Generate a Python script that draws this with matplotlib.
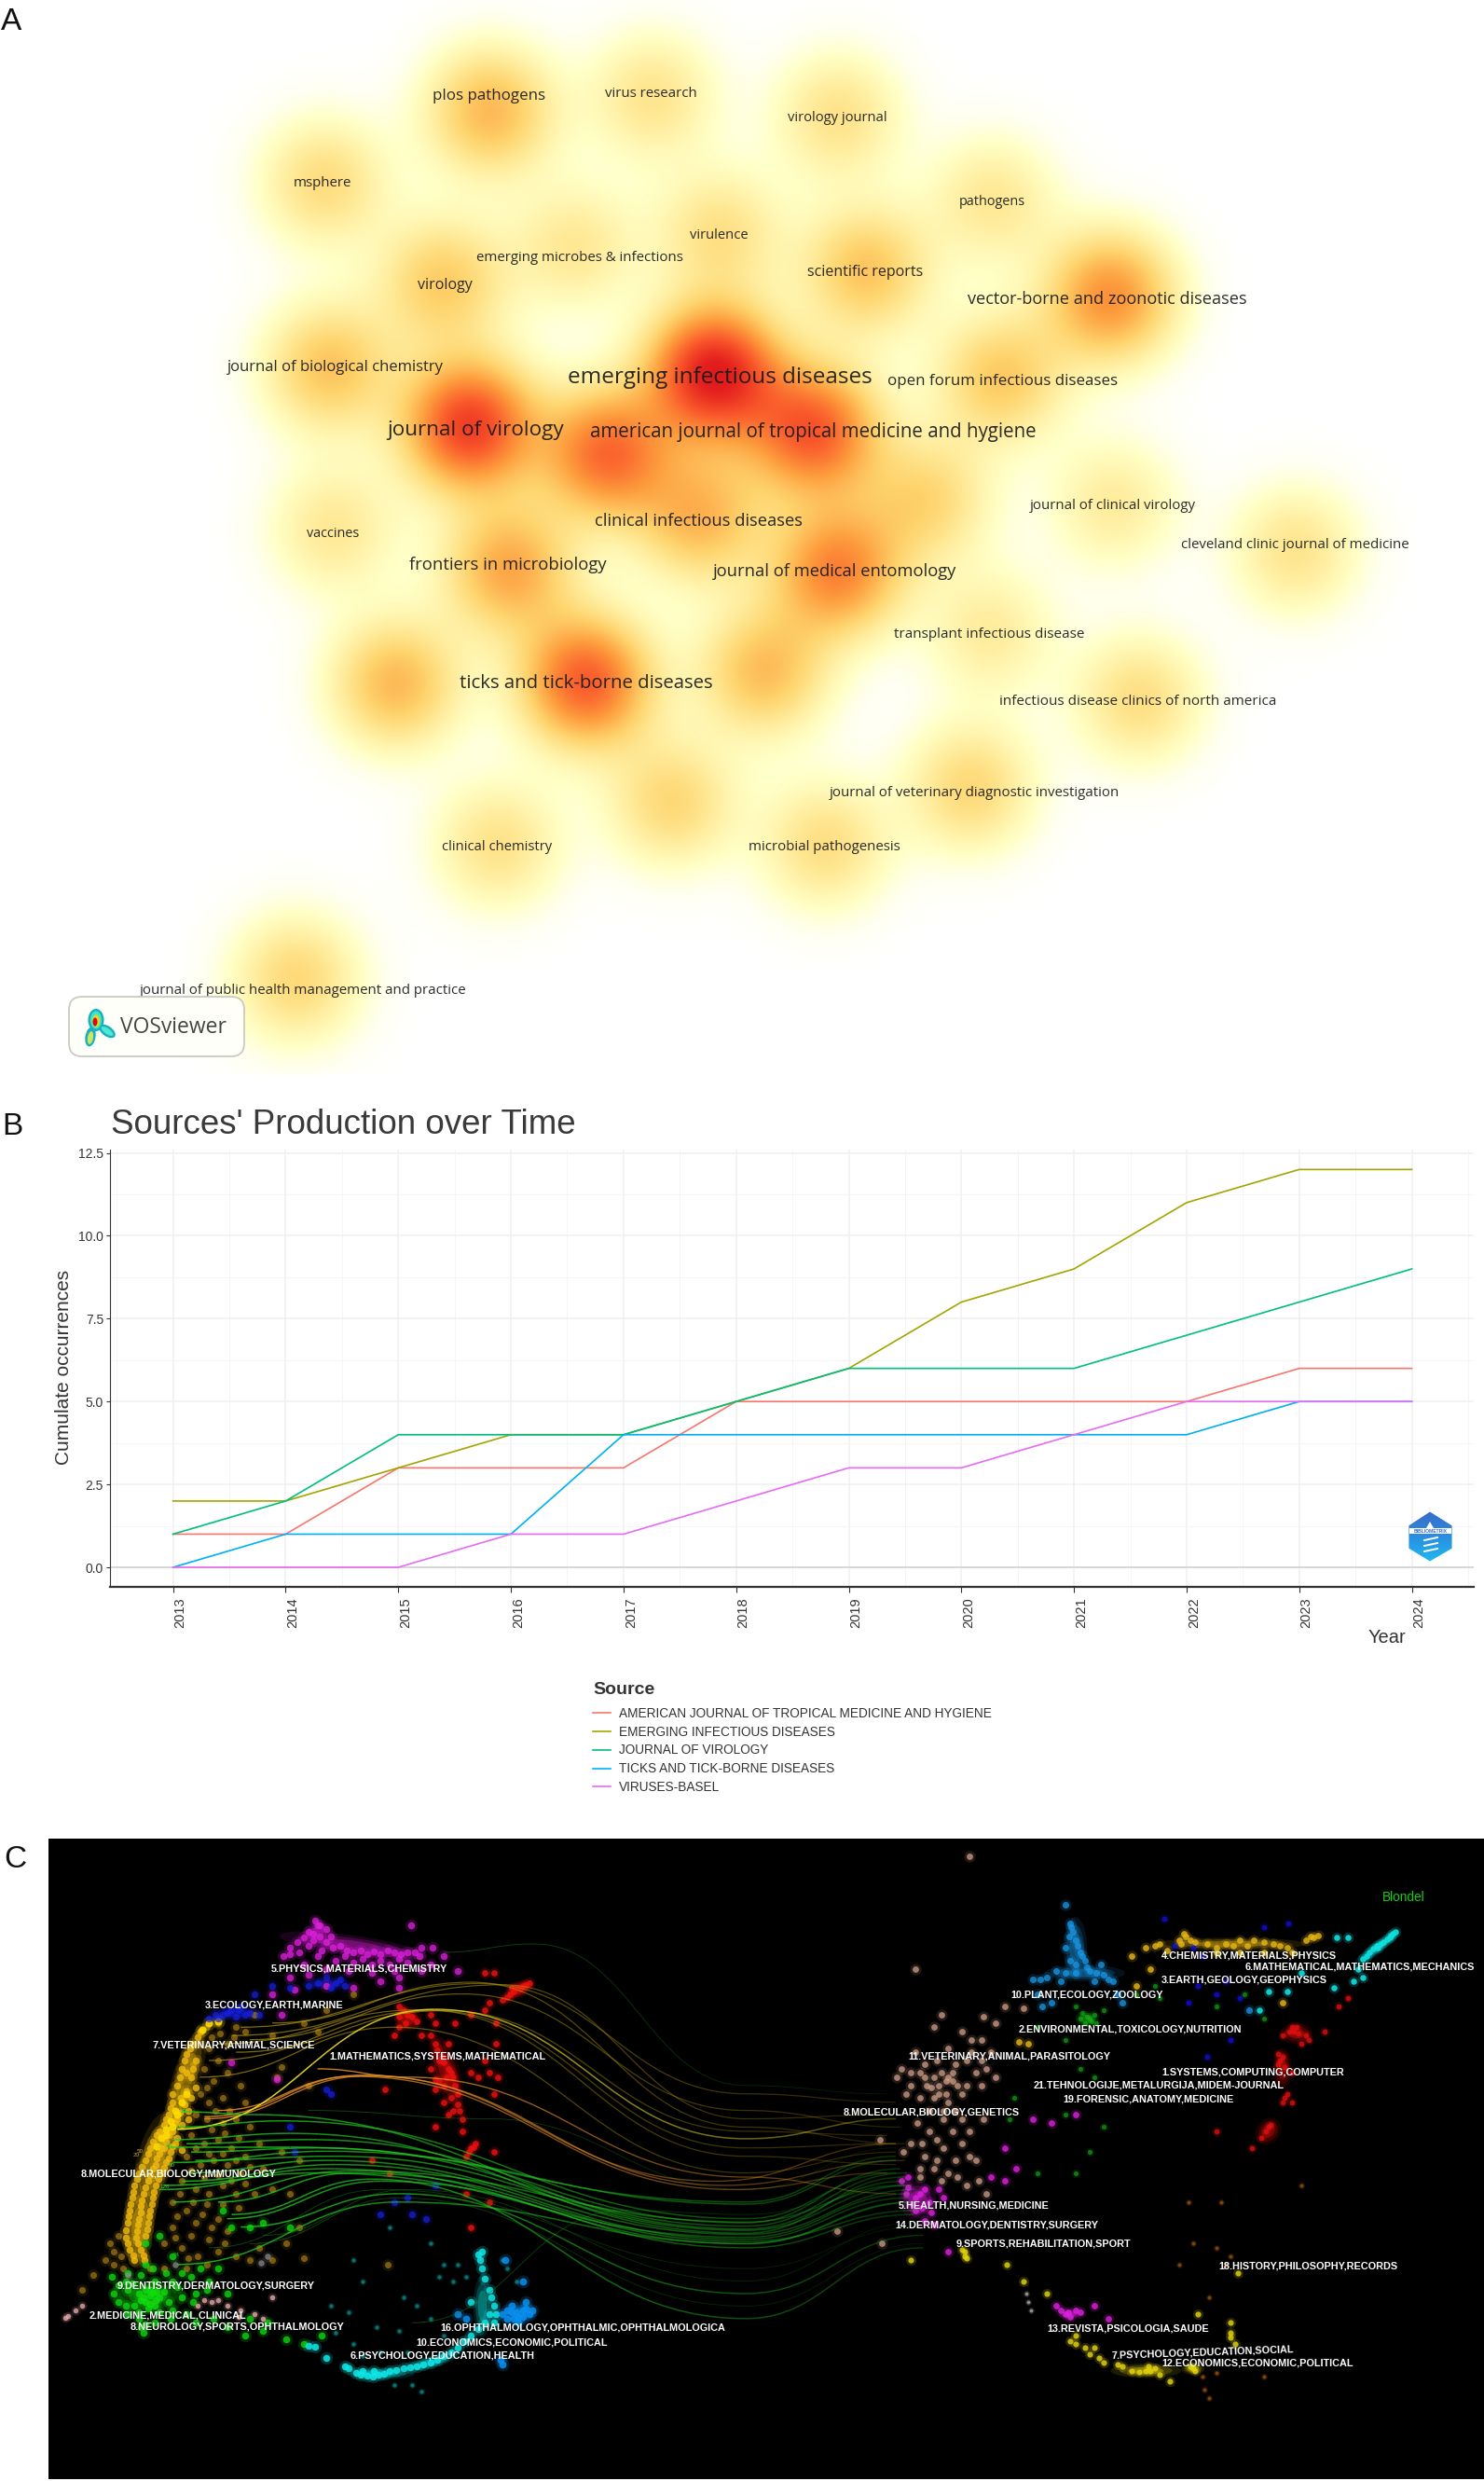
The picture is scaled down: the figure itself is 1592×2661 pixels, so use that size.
import numpy as np
import matplotlib
matplotlib.use('Agg')
import matplotlib.pyplot as plt
from matplotlib.collections import LineCollection
from matplotlib.colors import LinearSegmentedColormap, to_rgb
from matplotlib.patches import Ellipse, FancyBboxPatch, Polygon, Rectangle
from matplotlib.path import Path
from matplotlib.transforms import ScaledTranslation

plt.rcParams['font.family'] = ['Liberation Sans', 'DejaVu Sans']

# --- panel A: journal density map ---
journals = ['emerging infectious diseases', 'journal of virology', 'american journal of tropical medicine and hygiene',
            'ticks and tick-borne diseases', 'vector-borne and zoonotic diseases', 'journal of medical entomology',
            'frontiers in microbiology', 'clinical infectious diseases', 'plos pathogens', 'virus research',
            'virology journal', 'msphere', 'pathogens', 'virulence', 'emerging microbes & infections', 'virology',
            'scientific reports', 'journal of biological chemistry', 'open forum infectious diseases',
            'journal of clinical virology', 'cleveland clinic journal of medicine', 'vaccines',
            'transplant infectious disease', 'infectious disease clinics of north america',
            'journal of veterinary diagnostic investigation', 'clinical chemistry', 'microbial pathogenesis',
            'journal of public health management and practice']
label_x = [772, 510, 872, 629, 1188, 896, 545, 749, 525, 698, 898, 346, 1064, 771, 622, 477, 928, 360, 1076, 1194,
           1389, 357, 1061, 1221, 1045, 533, 884, 325]
label_y = [405, 461, 464, 733, 321, 613, 606, 559, 103, 100, 126, 197, 216, 252, 277, 306, 292, 394, 409, 542, 584,
           573, 680, 752, 851, 908, 908, 1062]
label_pt = [17.5, 16.2, 14.8, 14.7, 13.1, 13.2, 13.3, 13.2, 12.2, 10.8, 10.6, 10.8, 10.4, 10.6, 10.8, 11.5, 11.5, 12,
            12.2, 10.8, 10.8, 10.4, 11, 11, 10.8, 10.6, 10.8, 10.8]
blob_x = [765, 503, 872, 628, 1190, 897, 545, 750, 525, 699, 898, 347, 1064, 771, 615, 474, 928, 352, 1072, 1194,
          1389, 357, 1061, 1221, 1040, 533, 884, 317, 650, 993, 424, 818, 720]
blob_y = [400, 456, 462, 731, 318, 612, 610, 555, 119, 103, 124, 195, 214, 250, 264, 302, 290, 394, 405, 540, 590,
          567, 678, 750, 845, 906, 906, 1050, 486, 535, 733, 720, 860]
blob_w = [1.0, 0.86, 0.74, 0.74, 0.56, 0.6, 0.48, 0.42, 0.42, 0.24, 0.25, 0.28, 0.22, 0.26, 0.22, 0.35, 0.38, 0.38,
          0.36, 0.2, 0.24, 0.22, 0.2, 0.27, 0.3, 0.25, 0.27, 0.3, 0.68, 0.3, 0.42, 0.4, 0.3]

# --- panel B: sources' production over time ---
years = [2013, 2014, 2015, 2016, 2017, 2018, 2019, 2020, 2021, 2022, 2023, 2024]
source_names = ['AMERICAN JOURNAL OF TROPICAL MEDICINE AND HYGIENE', 'EMERGING INFECTIOUS DISEASES',
                'JOURNAL OF VIROLOGY', 'TICKS AND TICK-BORNE DISEASES', 'VIRUSES-BASEL']
ajtmh = [1, 1, 3, 3, 3, 5, 5, 5, 5, 5, 6, 6]
eid = [2, 2, 3, 4, 4, 5, 6, 8, 9, 11, 12, 12]
jvi = [1, 2, 4, 4, 4, 5, 6, 6, 6, 7, 8, 9]
ticks = [0, 1, 1, 1, 4, 4, 4, 4, 4, 4, 5, 5]
viruses = [0, 0, 0, 1, 1, 2, 3, 3, 4, 5, 5, 5]
source_cols = ['#F8766D', '#A3A500', '#00BF7D', '#00B0F6', '#E76BF3']

# --- panel C: dual map overlay, read in map units of the two halves ---
gold_core = [(360, 490), (345, 520), (330, 545), (350, 560), (320, 580), (340, 600), (310, 620), (330, 635), (350, 625),
             (300, 660), (325, 665), (290, 690), (310, 700), (280, 715), (300, 730), (265, 740), (285, 755), (310, 745),
             (250, 770), (270, 785), (295, 780), (240, 800), (262, 810), (285, 805), (225, 830), (250, 835), (275, 830),
             (215, 860), (240, 865), (262, 860), (210, 890), (232, 895), (255, 890), (205, 920), (228, 925), (250, 920),
             (200, 950), (222, 955), (245, 950), (195, 985), (218, 985), (240, 980), (205, 1015), (228, 1015),
             (215, 1040), (238, 1040), (355, 505), (338, 530), (325, 560), (345, 580), (330, 590), (315, 600),
             (300, 640), (318, 650), (340, 650), (295, 675), (315, 685), (335, 680), (285, 700), (270, 730), (290, 740),
             (255, 755), (275, 770), (300, 765), (245, 785), (265, 795), (290, 795), (232, 815), (255, 820), (280, 818),
             (220, 845), (245, 850), (268, 845), (212, 875), (235, 880), (258, 875), (207, 905), (230, 910), (253, 905),
             (202, 935), (225, 940), (248, 935), (197, 968), (220, 970), (243, 965), (200, 1000), (222, 1000),
             (212, 1028), (235, 1028), (305, 710), (320, 715), (335, 700), (305, 760), (320, 775), (280, 770)]
yellow_left = [(330, 640), (320, 660), (305, 680), (295, 705), (285, 725), (275, 745), (265, 765), (285, 740),
               (300, 720), (310, 690), (380, 470), (400, 465), (365, 485)]
gold_mid = [(375, 480), (400, 470), (440, 480), (460, 490), (420, 520), (380, 530), (400, 560), (370, 580), (390, 610),
            (420, 590), (360, 640), (380, 660), (410, 650), (450, 620), (350, 690), (375, 700), (410, 710), (440, 700),
            (470, 720), (340, 740), (370, 760), (400, 750), (430, 770), (460, 790), (490, 760), (330, 790), (360, 810),
            (390, 800), (420, 810), (450, 830), (500, 820), (540, 780), (580, 800), (320, 850), (350, 870), (380, 880),
            (410, 860), (440, 880), (480, 880), (520, 870), (560, 880), (300, 900), (330, 920), (365, 930), (400, 940),
            (300, 960), (340, 980), (380, 990), (420, 970), (320, 1010), (355, 1030), (400, 1020), (440, 1030),
            (280, 1000), (180, 980), (170, 1020), (190, 1060), (160, 1000), (123, 1075), (98, 1110), (280, 1060),
            (330, 1060), (490, 1010), (590, 1035), (775, 1050), (520, 1040), (600, 620), (540, 575), (460, 660),
            (530, 600), (700, 400), (640, 440), (590, 470), (520, 500), (480, 450), (620, 490), (385, 505), (405, 495),
            (435, 505), (360, 520), (345, 570), (375, 625), (395, 680), (425, 680), (385, 725), (415, 735), (445, 745),
            (350, 770), (380, 785), (410, 785), (440, 800), (470, 815), (340, 825), (370, 840), (400, 835), (430, 850),
            (460, 855), (315, 880), (345, 900), (375, 905), (410, 905), (445, 915), (310, 935), (350, 950), (385, 960),
            (415, 1000), (305, 985), (335, 1035), (375, 1050), (250, 1060), (170, 1050), (185, 1030), (150, 1040),
            (470, 1040), (550, 1000), (580, 960)]
green_left = [(165, 1080), (180, 1100), (200, 1110), (225, 1120), (250, 1125), (270, 1130), (240, 1140), (215, 1150),
              (260, 1150), (290, 1140), (320, 1130), (350, 1120), (300, 1090), (260, 1090), (230, 1075), (200, 1070),
              (360, 1060), (180, 1140), (200, 1170), (225, 1180), (235, 1215), (260, 1190), (295, 1180), (330, 1170),
              (240, 1000), (270, 980), (300, 1030), (340, 1080), (380, 1090), (420, 1120), (400, 1060), (430, 960),
              (410, 920), (470, 960), (500, 950), (560, 960), (470, 1180), (510, 1190), (550, 1230), (590, 1240),
              (630, 1220), (420, 1200), (460, 1220), (500, 1210), (250, 1110), (235, 1130), (265, 1115), (250, 1145),
              (240, 1110), (255, 1118), (230, 1135), (262, 1135), (245, 1155), (225, 1165), (270, 1165), (195, 1090),
              (210, 1095), (280, 1115), (310, 1105), (240, 1195), (230, 1200), (195, 1150), (170, 1120), (300, 1160),
              (345, 1140), (375, 1110), (320, 1070), (285, 1070), (255, 1060), (240, 1050), (390, 1180), (350, 1190)]
pink_left = [(68, 1173), (62, 1178), (85, 1160), (100, 1150), (370, 1135), (385, 1140), (400, 1135), (420, 1150),
             (450, 1160), (480, 1170), (520, 1130), (500, 1180), (355, 1150), (445, 1175)]
grey_left = [(305, 1050), (200, 1075), (510, 1030), (495, 1045)]
magenta_left = [(600, 250), (620, 235), (640, 245), (590, 265), (610, 270), (640, 275), (670, 285), (700, 300),
                (730, 305), (760, 305), (790, 300), (820, 300), (850, 290), (827, 235), (875, 290), (560, 290),
                (545, 310), (580, 300), (620, 310), (660, 320), (700, 325), (740, 330), (780, 330), (820, 325),
                (870, 330), (900, 310), (930, 345), (560, 360), (600, 355), (640, 380), (700, 385), (760, 370),
                (800, 385), (520, 400), (570, 390), (540, 450), (430, 565), (530, 605), (800, 360), (610, 255),
                (625, 262), (650, 262), (655, 290), (685, 295), (715, 295), (745, 298), (775, 295), (805, 305),
                (835, 300), (600, 285), (630, 295), (680, 310), (720, 315), (760, 320), (800, 315), (575, 275),
                (560, 305), (845, 310), (590, 330), (640, 340), (690, 345), (740, 350), (790, 345), (850, 345),
                (625, 235), (615, 225)]
blue_left = [(430, 440), (450, 430), (470, 445), (440, 455), (410, 450), (490, 450), (395, 450), (380, 460), (620, 375),
             (660, 375), (680, 380), (640, 360), (600, 380), (560, 385), (480, 400), (520, 380), (640, 630), (650, 640),
             (560, 720), (570, 780), (760, 930), (790, 900), (830, 930), (860, 940), (820, 890), (880, 860), (420, 445),
             (460, 450), (445, 440), (400, 460), (670, 365), (650, 385)]
cyan_left = [(600, 1245), (615, 1248), (640, 1275), (680, 1295), (705, 1310), (730, 1318), (755, 1315), (780, 1305),
             (810, 1300), (840, 1295), (870, 1285), (900, 1270), (930, 1250), (960, 1220), (990, 1190), (1010, 1150),
             (1000, 1110), (985, 1060), (975, 1025), (985, 1020), (1010, 1190), (960, 1140), (690, 1300), (715, 1315),
             (742, 1320), (768, 1312), (795, 1303), (825, 1298), (855, 1290), (885, 1278), (915, 1262), (945, 1235),
             (975, 1205), (1000, 1170), (1005, 1130), (990, 1085), (980, 1040), (1015, 1170), (720, 1305), (745, 1305)]
teal_left = [(650, 1150), (690, 1165), (720, 1090), (810, 1130), (840, 1150), (870, 1180), (900, 1220), (800, 1210),
             (750, 1200), (700, 1240), (660, 1215), (850, 1355), (830, 1340), (790, 1340), (900, 1050), (930, 1050),
             (950, 1080), (890, 1080), (920, 1090), (1030, 1040), (1040, 1060), (1060, 1090), (870, 1000), (760, 1260),
             (720, 1270), (820, 1260), (700, 1040), (780, 960)]
sky_left = [(1060, 1165), (1075, 1160), (1090, 1170), (1050, 1150), (1040, 1180), (1065, 1190), (1025, 1280),
            (1030, 1290), (930, 1170), (950, 1180), (1080, 1140), (1035, 1040), (1075, 1090), (1050, 1165), (1065, 1175),
            (1082, 1155), (1095, 1160), (1055, 1180), (1030, 1170), (1040, 1160), (1075, 1175)]
red_left = [(1060, 385), (1075, 380), (1090, 375), (1045, 400), (1030, 415), (1010, 350), (990, 350), (800, 430),
            (820, 450), (840, 465), (800, 480), (790, 500), (880, 520), (895, 550), (910, 580), (920, 600), (900, 620),
            (880, 630), (930, 640), (920, 680), (940, 700), (900, 660), (960, 770), (950, 790), (970, 760), (1015, 520),
            (990, 560), (1010, 640), (770, 630), (960, 590), (960, 450), (990, 440), (1015, 470), (880, 470),
            (925, 470), (870, 450), (740, 800), (780, 830), (950, 880), (1000, 900), (960, 960), (1010, 780),
            (880, 720), (940, 730), (1068, 388), (1055, 395), (1082, 378), (1040, 408), (1050, 385), (810, 440),
            (830, 455), (815, 470), (800, 455), (885, 535), (900, 565), (915, 590), (905, 600), (890, 610), (925, 620),
            (915, 650), (930, 665), (910, 690), (955, 780), (965, 768), (890, 560), (870, 580), (880, 605), (935, 680),
            (1000, 590), (1020, 600), (975, 600), (1000, 420), (850, 500), (870, 500), (910, 520)]

sky_right = [(690, 230), (695, 250), (700, 270), (680, 290), (710, 300), (700, 330), (730, 345), (760, 355), (780, 370),
             (740, 370), (680, 350), (640, 360), (610, 365), (720, 320), (800, 420), (790, 400), (650, 420), (630, 430),
             (1070, 440), (680, 185), (692, 240), (688, 262), (705, 285), (715, 310), (690, 320), (725, 335), (745, 350),
             (660, 345), (625, 365), (770, 365), (755, 330), (700, 350), (670, 370), (620, 400)]
gold_right = [(880, 280), (930, 255), (945, 270), (920, 270), (980, 280), (1020, 280), (1050, 270), (1080, 270),
              (1120, 280), (1150, 290), (1200, 262), (1215, 260), (850, 290), (820, 310), (1000, 300), (1050, 300),
              (1100, 300), (1160, 300), (860, 340), (830, 380), (580, 515), (600, 520), (1140, 420), (935, 262),
              (925, 280), (955, 275), (1000, 290), (1035, 285), (1065, 285), (1100, 275), (1135, 285), (1205, 265),
              (1190, 272), (895, 295), (870, 285)]
blue_right = [(890, 220), (1152, 230), (910, 285), (950, 290), (970, 310), (960, 380), (1000, 400), (1050, 410),
              (1020, 370), (940, 420), (1100, 240), (1030, 510), (980, 550)]
cyan_right = [(1380, 250), (1370, 260), (1355, 275), (1340, 285), (1325, 300), (1310, 315), (1280, 265), (1255, 265),
              (1300, 340), (1290, 370), (1250, 385), (1180, 350), (1150, 395), (1110, 395), (1090, 440), (1310, 360),
              (1375, 255), (1362, 268), (1348, 280), (1332, 292), (1318, 308), (1368, 265), (1342, 290)]
green_right = [(730, 460), (715, 445), (745, 470), (700, 430), (760, 440), (830, 400), (880, 410), (870, 380),
               (1000, 430), (1100, 460), (1060, 400), (620, 480), (680, 510), (570, 650), (710, 580), (740, 600),
               (760, 720), (620, 830), (700, 830), (730, 780), (560, 700), (680, 690), (725, 455), (735, 465),
               (720, 470), (710, 460), (740, 450)]
tan_right = [(430, 600), (445, 570), (410, 620), (400, 650), (430, 660), (460, 640), (380, 600), (500, 560), (520, 540),
             (480, 510), (460, 490), (505, 455), (550, 430), (590, 435), (350, 620), (330, 580), (320, 600), (360, 340),
             (415, 450), (400, 480), (360, 540), (475, 70), (530, 600), (500, 620), (460, 700), (420, 700), (390, 730),
             (350, 760), (380, 790), (420, 770), (460, 760), (490, 800), (430, 830), (400, 820), (370, 840), (470, 860),
             (510, 880), (285, 750), (195, 970), (290, 1000), (440, 610), (415, 590), (425, 640), (395, 625), (440, 590),
             (425, 610), (450, 620), (410, 640), (385, 620), (370, 590), (400, 600), (420, 680), (390, 680), (445, 680),
             (470, 620), (490, 590), (510, 580), (470, 560), (480, 540), (500, 510), (530, 470), (380, 570), (350, 590),
             (340, 640), (370, 650), (365, 710), (405, 750), (440, 730), (475, 730), (505, 700), (375, 760), (405, 800),
             (445, 800), (475, 790), (415, 850), (450, 840), (495, 850), (370, 820), (335, 780), (405, 560), (430, 530)]
magenta_right = [(330, 850), (340, 880), (370, 880), (390, 900), (360, 920), (380, 945), (400, 955), (430, 1020),
                 (550, 850), (575, 820), (520, 840), (550, 770), (680, 1170), (690, 1175), (660, 1150), (710, 1165),
                 (740, 1150), (770, 1180), (610, 700), (650, 710), (700, 690), (420, 890), (345, 865), (360, 890),
                 (380, 870), (355, 905), (375, 915), (395, 925), (345, 840), (410, 870), (685, 1165), (670, 1160),
                 (700, 1160)]
yellow_right = [(465, 1020), (470, 1035), (350, 1040), (555, 1050), (590, 1090), (640, 1120), (700, 1220), (720, 1250),
                (750, 1275), (790, 1290), (820, 1305), (850, 1305), (870, 1300), (900, 1330), (950, 1300), (960, 1170),
                (1030, 1215), (1040, 1240), (1045, 1070), (1030, 1190), (690, 1235), (730, 1265), (760, 1285),
                (800, 1295), (835, 1308), (860, 1305), (855, 1295), (880, 1315), (955, 1305), (945, 1295), (1030, 1225),
                (740, 1250), (700, 1240), (465, 1030), (460, 1015)]
brown_right = [(1030, 1030), (1020, 1050), (1010, 900), (950, 1000), (940, 900), (1180, 860), (1000, 1010), (985, 1130),
               (920, 1050), (970, 1320), (985, 1370), (975, 1350), (1000, 1310), (1100, 1320)]
red_right = [(1170, 480), (1155, 490), (1190, 500), (1230, 490), (1140, 550), (1130, 570), (1160, 590), (1150, 640),
             (1140, 660), (1160, 660), (1110, 720), (1095, 745), (1075, 770), (1140, 500), (1260, 430), (1280, 410),
             (1000, 730), (1180, 520), (1165, 490), (1175, 495), (1135, 560), (1145, 575), (1130, 545), (1145, 650),
             (1105, 730), (1115, 715), (1160, 480), (1195, 510)]
grey_right = [(600, 1140), (595, 1120), (605, 1160)]

# extents of the dense cores: x, y, width, height, angle, colour
cores_left = [(700, 285, 330, 50, 8, '#e020e0'), (620, 250, 60, 40, 0, '#e020e0'), (440, 445, 110, 40, 0, '#1820e0'),
              (640, 375, 110, 30, 0, '#1820e0'), (330, 600, 60, 240, 18, '#f2bc10'), (260, 800, 80, 240, 15, '#f2bc10'),
              (225, 960, 65, 200, 3, '#f2bc10'), (245, 1125, 170, 90, 0, '#10e010'), (1065, 390, 70, 40, -30, '#f01010'),
              (905, 585, 60, 180, -18, '#f01010'), (820, 460, 60, 60, 0, '#f01010'), (760, 1312, 150, 30, 0, '#10e8e8'),
              (870, 1285, 120, 30, -15, '#10e8e8'), (985, 1150, 40, 150, 0, '#10e8e8'), (1070, 1165, 70, 50, 0, '#0a90f0')]
cores_right = [(700, 290, 50, 150, 0, '#1a98e8'), (720, 350, 170, 40, 0, '#1a98e8'), (1030, 280, 320, 30, 0, '#e8b818'),
               (1340, 290, 120, 30, -38, '#10e0e0'), (365, 895, 80, 90, 0, '#e020e0'), (725, 460, 50, 40, 0, '#18c818'),
               (1170, 495, 70, 50, 0, '#e81010'), (1140, 580, 40, 100, 0, '#e81010'), (1110, 730, 50, 70, 40, '#e81010'),
               (850, 1305, 150, 35, 0, '#e8d810'), (950, 1300, 50, 30, 0, '#e8d810'), (690, 1170, 50, 25, 0, '#e020e0')]

# knots of the citation arcs in left map units: start, crest, flat stretch, end
arcs_yellow = [[(310, 725), (880, 437), (1568, 748), (1900, 700)]]
arcs_olive = [[(450, 480), (980, 375), (1568, 640), (1900, 660)], [(430, 500), (1030, 378), (1568, 700), (1890, 690)],
              [(520, 470), (960, 372), (1568, 720), (1920, 760)], [(380, 560), (870, 440), (1568, 770), (1900, 760)],
              [(400, 520), (850, 438), (1568, 790), (1900, 810)], [(440, 540), (900, 440), (1568, 730), (1880, 740)],
              [(470, 510), (940, 400), (1568, 680), (1910, 720)], [(360, 600), (790, 480), (1568, 830), (1900, 780)]]
arcs_orange = [[(370, 695), (720, 595), (1500, 850), (1900, 760)], [(370, 700), (730, 597), (1520, 860), (1920, 800)],
               [(400, 680), (700, 598), (1540, 870), (1880, 830)], [(620, 580), (820, 600), (1568, 840), (1900, 880)]]
arcs_green = [[(320, 683), (480, 690), (1568, 965), (1920, 850)], [(300, 750), (560, 735), (1568, 975), (1920, 840)],
              [(290, 768), (560, 768), (1568, 900), (1900, 790)], [(300, 805), (640, 778), (1568, 905), (1900, 800)],
              [(280, 860), (620, 830), (1568, 985), (1930, 880)], [(270, 870), (640, 820), (1568, 1000), (1940, 900)],
              [(430, 930), (740, 845), (1568, 1180), (1960, 1010)], [(450, 960), (800, 880), (1568, 1120), (1960, 980)],
              [(310, 1050), (800, 900), (1568, 1000), (1950, 900)], [(330, 760), (600, 750), (1568, 950), (1910, 820)],
              [(340, 780), (620, 770), (1568, 958), (1925, 830)], [(350, 800), (660, 790), (1568, 968), (1935, 860)],
              [(330, 830), (640, 800), (1568, 978), (1945, 870)], [(320, 850), (660, 810), (1568, 990), (1930, 890)],
              [(400, 900), (700, 830), (1568, 995), (1950, 920)], [(420, 940), (760, 850), (1568, 1010), (1940, 930)],
              [(300, 900), (700, 825), (1568, 948), (1920, 860)], [(310, 720), (540, 705), (1568, 940), (1900, 830)]]
arcs_dark = [[(380, 1010), (760, 870), (1568, 1060), (1950, 960)], [(470, 1000), (800, 890), (1568, 1150), (1960, 1000)],
             [(500, 980), (820, 870), (1568, 1090), (1940, 950)], [(600, 680), (1000, 700), (1568, 870), (1900, 770)],
             [(830, 1190), (1300, 920), (1568, 930), (1900, 860)], [(900, 300), (1100, 280), (1568, 620), (1880, 640)]]

labels_left = ['5.PHYSICS,MATERIALS,CHEMISTRY', '3.ECOLOGY,EARTH,MARINE', '7.VETERINARY,ANIMAL,SCIENCE',
               '1.MATHEMATICS,SYSTEMS,MATHEMATICAL', '8.MOLECULAR,BIOLOGY,IMMUNOLOGY', '9.DENTISTRY,DERMATOLOGY,SURGERY',
               '2.MEDICINE,MEDICAL,CLINICAL', '8.NEUROLOGY,SPORTS,OPHTHALMOLOGY',
               '16.OPHTHALMOLOGY,OPHTHALMIC,OPHTHALMOLOGICA', '10.ECONOMICS,ECONOMIC,POLITICAL',
               '6.PSYCHOLOGY,EDUCATION,HEALTH']
labels_left_x = [518, 370, 254, 647, 97, 177, 115, 206, 893, 838, 692]
labels_left_y = [339, 426, 523, 550, 833, 1102, 1173, 1200, 1202, 1237, 1268]
labels_right = ['4.CHEMISTRY,MATERIALS,PHYSICS', '6.MATHEMATICAL,MATHEMATICS,MECHANICS', '3.EARTH,GEOLOGY,GEOPHYSICS',
                '10.PLANT,ECOLOGY,ZOOLOGY', '2.ENVIRONMENTAL,TOXICOLOGY,NUTRITION', '11.VETERINARY,ANIMAL,PARASITOLOGY',
                '1.SYSTEMS,COMPUTING,COMPUTER', '21.TEHNOLOGIJE,METALURGIJA,MIDEM-JOURNAL',
                '19.FORENSIC,ANATOMY,MEDICINE', '8.MOLECULAR,BIOLOGY,GENETICS', '5.HEALTH,NURSING,MEDICINE',
                '14.DERMATOLOGY,DENTISTRY,SURGERY', '9.SPORTS,REHABILITATION,SPORT', '18.HISTORY,PHILOSOPHY,RECORDS',
                '13.REVISTA,PSICOLOGIA,SAUDE', '12.ECONOMICS,ECONOMIC,POLITICAL']
labels_right_x = [883, 1060, 883, 563, 580, 345, 883, 612, 673, 207, 325, 318, 447, 1004, 641, 884]
labels_right_y = [308, 336, 366, 401, 486, 549, 587, 620, 654, 684, 908, 955, 1001, 1053, 1203, 1287]
small_nums = ['32', '25', '12', '86', '40', '128', '24', '50', '20', '10']
small_x = [325, 292, 273, 303, 297, 283, 307, 227, 218, 235]
small_y = [682, 765, 768, 748, 812, 863, 1027, 778, 788, 818]
small_cols = ['#33dd33', '#33dd33', '#d8c020', '#c8b030', '#33dd33', '#33dd33', '#33aa33', '#c8a030', '#c8a030', '#c8a030']


# map units of the two zoomed halves -> figure pixels
def lx(x):
    return np.asarray(x, dtype=float) / 2.063 + 40


def rx(x):
    return np.asarray(x, dtype=float) / 1.98 + 800


def my(y):
    return np.asarray(y, dtype=float) / 2.24 + 1960


fig = plt.figure(figsize=(15.92, 26.61), dpi=100, facecolor='white')

# --- B ---
ax = fig.add_axes([118 / 1592, 1 - 1702 / 2661, (1581 - 118) / 1592, (1702 - 1233) / 2661], zorder=1)
series = [ajtmh, eid, jvi, ticks, viruses]
for vals, name, col in zip(series, source_names, source_cols):
    ax.plot(years, vals, color=col, lw=1.2, label=name, zorder=3)
ax.set_xlim(2012.44, 2024.55)
ax.set_ylim(-0.59, 12.6)
ax.set_xticks(years)
ax.set_yticks([0, 2.5, 5, 7.5, 10, 12.5])
ax.set_yticklabels(['0.0', '2.5', '5.0', '7.5', '10.0', '12.5'])
ax.set_xticks([y + 0.5 for y in years[:-1]] + [2012.5, 2024.5], minor=True)
ax.set_yticks([1.25, 3.75, 6.25, 8.75, 11.25], minor=True)
ax.grid(True, which='major', color='#f0f0f0', lw=1.1)
ax.grid(True, which='minor', color='#f5f5f5', lw=0.7)
ax.axhline(0, color='#cfcfcf', lw=1.1, zorder=2)
ax.set_axisbelow(True)
for side in ['top', 'right']:
    ax.spines[side].set_visible(False)
ax.spines['bottom'].set_color('#333333')
ax.spines['bottom'].set_linewidth(1.6)
ax.spines['left'].set_color('#333333')
ax.spines['left'].set_linewidth(0.8)
ax.tick_params(axis='x', which='major', labelrotation=90, labelsize=10.5, length=4, color='#333333',
               labelcolor='#333333', pad=4)
ax.tick_params(axis='y', which='major', labelsize=10, length=3, color='#333333', labelcolor='#333333', pad=2)
ax.tick_params(which='minor', length=0)
for lab in ax.get_xticklabels():
    lab.set_transform(lab.get_transform() + ScaledTranslation(8 / 100, 0, fig.dpi_scale_trans))

# --- A and C live on a figure-sized pixel axes ---
ov = fig.add_axes([0, 0, 1, 1], zorder=3)
ov.axis('off')

gx, gy = np.meshgrid(np.arange(0, 1592, 2), np.arange(0, 1153, 2))
dens = np.zeros_like(gx, dtype=float)
for bx, by, w in zip(blob_x, blob_y, blob_w):
    dens += w * np.exp(-((gx - bx) ** 2 + (gy - by) ** 2) / (2 * 48.0 ** 2))
heat = LinearSegmentedColormap.from_list('vos', [(0, '#ffffff'), (0.03, '#fffff2'), (0.09, '#ffffc6'), (0.2, '#ffeb9a'),
                                                 (0.32, '#fed36c'), (0.5, '#fd9e3e'), (0.72, '#fa5a2b'),
                                                 (0.95, '#e41f1e'), (1, '#dd1a1c')])
ov.imshow(dens, extent=(0, 1592, 1153, 0), cmap=heat, vmin=0, vmax=1.05, aspect='auto', interpolation='bilinear', zorder=1)
for name, x, y, pt in zip(journals, label_x, label_y, label_pt):
    ov.text(x, y, name, fontsize=pt, family=['Open Sans', 'DejaVu Sans'], color='#1a1a1a', alpha=0.92, ha='center',
            va='center', zorder=3)

ov.add_patch(FancyBboxPatch((82, 1077), 172, 48, boxstyle='round,pad=8,rounding_size=14', fc='#fffffa', ec='#c8c8c0',
                            lw=1.3, alpha=0.95, zorder=4))
for cx, cy, w, h, ang, col in [(103, 1094, 17, 24, 0, '#18b0c0'), (97, 1112, 11, 21, 10, '#18b0c0'),
                               (115, 1106, 20, 11, 35, '#18b0c0'), (103, 1094, 12, 19, 0, '#40e8c8'),
                               (97, 1113, 6, 14, 10, '#c8e860'), (115, 1106, 15, 6, 35, '#50e8d0'),
                               (103, 1095, 8, 13, 0, '#f0d020'), (102, 1096, 5, 9, 0, '#cc1010')]:
    ov.add_patch(Ellipse((cx, cy), w, h, angle=ang, fc=col, ec='none', zorder=5))
ov.text(129, 1102, 'VOSviewer', fontsize=16.5, family=['Open Sans', 'DejaVu Sans'], color='#444444', va='center', zorder=5)

# --- C ---
ov.add_patch(Rectangle((52, 1972), 1540, 687, fc='black', ec='none', zorder=1))
for cores, to_x, scale in [(cores_left, lx, 2.063), (cores_right, rx, 1.98)]:
    for x, y, w, h, ang, col in cores:
        for grow, a in [(1.0, 0.12), (0.75, 0.2), (0.5, 0.3)]:
            ov.add_patch(Ellipse((to_x(x), my(y)), w / scale * grow, h / 2.24 * grow, angle=ang, fc=col, ec='none',
                                 alpha=a, zorder=1.5))
clusters = [(gold_mid, lx, '#d9a520', 26, 0.5), (gold_core, lx, '#f2bc10', 30, 0.8), (yellow_left, lx, '#ffdc00', 34, 0.9),
            (green_left, lx, '#10e010', 30, 0.75), (pink_left, lx, '#f0b0b0', 16, 0.75), (grey_left, lx, '#909090', 22, 0.7),
            (magenta_left, lx, '#e020e0', 30, 0.75), (blue_left, lx, '#1820e0', 28, 0.7), (cyan_left, lx, '#10e8e8', 30, 0.85),
            (teal_left, lx, '#10a0a0', 10, 0.65), (sky_left, lx, '#0a90f0', 32, 0.85), (red_left, lx, '#f01010', 24, 0.8),
            (sky_right, rx, '#1a98e8', 26, 0.75), (gold_right, rx, '#e8b818', 24, 0.8), (blue_right, rx, '#1010d8', 18, 0.75),
            (cyan_right, rx, '#10e0e0', 22, 0.9), (green_right, rx, '#18b818', 14, 0.6), (tan_right, rx, '#dca890', 24, 0.7),
            (magenta_right, rx, '#e020e0', 24, 0.8), (yellow_right, rx, '#e8d810', 20, 0.8),
            (brown_right, rx, '#a85a10', 9, 0.7), (red_right, rx, '#e81010', 18, 0.75), (grey_right, rx, '#aaaaaa', 8, 0.8)]
for pts, to_x, col, size, alpha in clusters:
    arr = np.array(pts)
    # soft halo fills the gaps of the dense clouds, then the dots on top
    ov.scatter(to_x(arr[:, 0]), my(arr[:, 1]), s=size * 3.2, color=col, alpha=alpha * 0.22, lw=0, zorder=2)
    ov.scatter(to_x(arr[:, 0]), my(arr[:, 1]), s=size, color=col, alpha=alpha, lw=0, zorder=2.1)


def draw_arcs(arcs, col, lw, alpha):
    rgb = to_rgb(col)
    for knots in arcs:
        xs = lx([k[0] for k in knots])
        ys = my([k[1] for k in knots])
        verts = [(xs[0], ys[0])]
        for i in range(len(xs) - 1):
            d = 0.45 * (xs[i + 1] - xs[i])
            verts += [(xs[i] + d, ys[i]), (xs[i + 1] - d, ys[i + 1]), (xs[i + 1], ys[i + 1])]
        codes = [Path.MOVETO] + [Path.CURVE4] * (len(verts) - 1)
        line = Path(verts, codes).to_polygons(closed_only=False)[0]
        segs = np.stack([line[:-1], line[1:]], axis=1)
        frac = (segs[:, 0, 0] - xs[0]) / (xs[-1] - xs[0])
        cols = [(*rgb, alpha * (1 - 0.7 * f)) for f in frac]
        ov.add_collection(LineCollection(segs, colors=cols, linewidths=lw, zorder=2.5))


draw_arcs(arcs_dark, '#1c7a1c', 0.7, 0.55)
draw_arcs(arcs_olive, '#b89c12', 0.9, 0.7)
draw_arcs(arcs_orange, '#ee9428', 1.0, 0.85)
draw_arcs(arcs_yellow, '#f8e828', 1.1, 1.0)
draw_arcs(arcs_green, '#22d022', 1.1, 0.8)

label_font = dict(fontsize=7.8, color='white', fontweight='bold', va='center', zorder=6)
for s, x, y in zip(labels_left, labels_left_x, labels_left_y):
    ov.text(lx(x), my(y), s, **label_font)
for s, x, y in zip(labels_right, labels_right_x, labels_right_y):
    ov.text(rx(x), my(y), s, **label_font)
ov.text(rx(776), my(1268), '7.PSYCHOLOGY,EDUCATION,SOCIAL', rotation=2, rotation_mode='anchor', **label_font)
ov.text(rx(1353), my(167), 'Blondel', fontsize=9.8, color='#10d010', va='center', zorder=6)
for s, x, y, col in zip(small_nums, small_x, small_y, small_cols):
    ov.text(lx(x), my(y), s, fontsize=4.5, color=col, ha='center', va='center', zorder=6)

# --- texts of B placed in pixels ---
ov.text(119, 1206, "Sources' Production over Time", fontsize=26.5, color='#3a3a3a', va='center', zorder=6)
ov.text(69, 1466, 'Cumulate occurrences', fontsize=15, color='#333333', rotation=90, ha='center', va='center', zorder=6)
ov.text(1488, 1756, 'Year', fontsize=14.5, color='#333333', ha='center', va='center', zorder=6)

leg = ax.legend(loc='upper left', bbox_to_anchor=(636, 1804), bbox_transform=ov.transData, title='Source', frameon=False,
                fontsize=9.8, title_fontproperties={'weight': 'bold', 'size': 14}, borderaxespad=0, borderpad=0,
                labelspacing=0.43, handlelength=1.4, handletextpad=0.66)
leg._legend_box.align = 'left'
leg._legend_box.sep = 7
for t in leg.get_texts():
    t.set_color('#333333')
leg.get_title().set_color('#333333')

# bibliometrix badge
hex_pts = [(1534, 1621), (1558, 1636), (1558, 1661), (1534, 1675), (1511, 1661), (1511, 1636)]
grad = np.linspace(0, 1, 60).reshape(-1, 1)
badge = LinearSegmentedColormap.from_list('badge', ['#3a6bc8', '#2a8ee0', '#20b8f0'])
hex_im = ov.imshow(grad, extent=(1511, 1558, 1675, 1621), cmap=badge, aspect='auto', zorder=5)
hex_patch = Polygon(hex_pts, closed=True, transform=ov.transData, fc='none', ec='none')
ov.add_patch(hex_patch)
hex_im.set_clip_path(hex_patch)
ov.add_patch(Polygon(hex_pts, closed=True, fc='none', ec='#ffffff', lw=0.6, zorder=5.5))
ov.add_patch(Rectangle((1512, 1639), 45, 6, fc='white', ec='none', zorder=5.6))
ov.text(1534.5, 1642, 'BIBLIOMETRIX', fontsize=3.6, color='#3a6bc8', fontweight='bold', ha='center', va='center', zorder=6)
ov.add_patch(Polygon([(1534, 1632), (1530, 1639), (1538, 1639)], closed=True, fc='white', ec='none', zorder=5.6))
for yy in [1652, 1658, 1664]:
    ov.plot([1528, 1542], [yy, yy - 3], color='white', lw=1.4, zorder=5.6)

# panel letters
ov.text(1, 32, 'A', fontsize=24, color='#111111', va='baseline', zorder=6)
ov.text(2, 1217, 'B', fontsize=24, color='#111111', va='baseline', zorder=6)
ov.text(4, 2003, 'C', fontsize=24, color='#111111', va='baseline', zorder=6)

ov.set_xlim(0, 1592)
ov.set_ylim(2661, 0)

fig.savefig('out.png', dpi=100, facecolor='white')
